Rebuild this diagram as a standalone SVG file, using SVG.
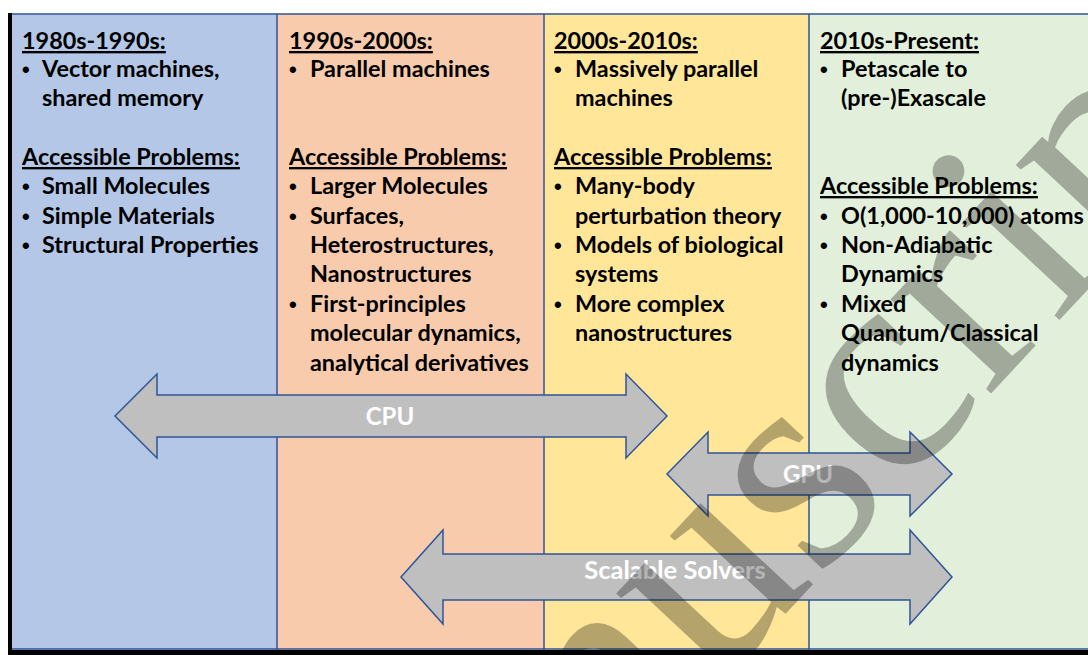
<svg xmlns="http://www.w3.org/2000/svg" width="1088" height="655" viewBox="0 0 1088 655">
<style>
.t{font-family:Lato,"Open Sans","Liberation Sans",sans-serif;font-weight:bold;font-size:23.4px;fill:#000}
.b{font-family:"Liberation Sans",Arial,sans-serif;font-weight:bold;font-size:22px;fill:#000}
.h{text-decoration:underline}
.arr{fill:#BFBFBF;stroke:#2F5597;stroke-width:1.5}
.al{font-family:Lato,"Open Sans","Liberation Sans",sans-serif;font-weight:bold;fill:#fff;text-anchor:middle}
.div{stroke:#2F5597;stroke-width:1.5}
</style>
<rect x="0" y="0" width="1088" height="655" fill="#fff"/>
<g id="col1">
<rect x="12" y="14" width="265" height="636" fill="#B4C7E7"/>
<text class="t h" x="22" y="49">1980s-1990s:</text>
<text class="b" x="22" y="77">•</text><text class="t" x="42" y="77">Vector machines,</text>
<text class="t" x="42" y="106">shared memory</text>
<text class="t h" x="22" y="165">Accessible Problems:</text>
<text class="b" x="22" y="194">•</text><text class="t" x="42" y="194">Small Molecules</text>
<text class="b" x="22" y="224">•</text><text class="t" x="42" y="224">Simple Materials</text>
<text class="b" x="22" y="253">•</text><text class="t" x="42" y="253">Structural Properties</text>
</g>
<g id="col2">
<rect x="277" y="14" width="267" height="636" fill="#F8CBAD"/>
<text class="t h" x="289" y="49">1990s-2000s:</text>
<text class="b" x="289" y="77">•</text><text class="t" x="310" y="77">Parallel machines</text>
<text class="t h" x="289" y="165">Accessible Problems:</text>
<text class="b" x="289" y="194">•</text><text class="t" x="310" y="194">Larger Molecules</text>
<text class="b" x="289" y="224">•</text><text class="t" x="310" y="224">Surfaces,</text>
<text class="t" x="310" y="253">Heterostructures,</text>
<text class="t" x="310" y="282">Nanostructures</text>
<text class="b" x="289" y="312">•</text><text class="t" x="310" y="312">First-principles</text>
<text class="t" x="310" y="341">molecular dynamics,</text>
<text class="t" x="310" y="371">analytical derivatives</text>
</g>
<g id="col3">
<rect x="544" y="14" width="265" height="636" fill="#FFE699"/>
<text class="t h" x="554" y="49">2000s-2010s:</text>
<text class="b" x="554" y="77">•</text><text class="t" x="575" y="77">Massively parallel</text>
<text class="t" x="575" y="106">machines</text>
<text class="t h" x="554" y="165">Accessible Problems:</text>
<text class="b" x="554" y="194">•</text><text class="t" x="575" y="194">Many-body</text>
<text class="t" x="575" y="224">perturbation theory</text>
<text class="b" x="554" y="253">•</text><text class="t" x="575" y="253">Models of biological</text>
<text class="t" x="575" y="282">systems</text>
<text class="b" x="554" y="312">•</text><text class="t" x="575" y="312">More complex</text>
<text class="t" x="575" y="341">nanostructures</text>
</g>
<g id="col4">
<rect x="809" y="14" width="279" height="636" fill="#E2EFDA"/>
<text class="t h" x="820" y="49">2010s-Present:</text>
<text class="b" x="820" y="77">•</text><text class="t" x="841" y="77">Petascale to</text>
<text class="t" x="841" y="106">(pre-)Exascale</text>
<text class="t h" x="820" y="194">Accessible Problems:</text>
<text class="b" x="820" y="224">•</text><text class="t" x="841" y="224">O(1,000-10,000) atoms</text>
<text class="b" x="820" y="253">•</text><text class="t" x="841" y="253">Non-Adiabatic</text>
<text class="t" x="841" y="282">Dynamics</text>
<text class="b" x="820" y="312">•</text><text class="t" x="841" y="312">Mixed</text>
<text class="t" x="841" y="341">Quantum/Classical</text>
<text class="t" x="841" y="371">dynamics</text>
</g>
<g id="dividers">
<line class="div" x1="12" y1="14" x2="1088" y2="14"/>
<line class="div" x1="277" y1="14" x2="277" y2="650"/>
<line class="div" x1="544" y1="14" x2="544" y2="650"/>
<line class="div" x1="809" y1="14" x2="809" y2="650"/>
<line class="div" x1="12" y1="649" x2="1088" y2="649"/>
</g>
<g id="connectors">
<g id="cpu">
<polygon class="arr" points="115,416 157,374 157,395 626,395 626,374 667,416 626,458 626,437 157,437 157,458"/>
<text class="al" x="390" y="425" font-size="24">CPU</text>
</g>
<g id="gpu">
<polygon class="arr" points="667,474 708,432 708,453 910,453 910,432 952,474 910,516 910,495 708,495 708,516"/>
<text class="al" x="808" y="483" font-size="24">GPU</text>
</g>
<g id="solvers">
<polygon class="arr" points="401,577 443,530 443,554 910,554 910,530 952,577 910,624 910,600 443,600 443,624"/>
<text class="al" x="675" y="579" font-size="25.5">Scalable Solvers</text>
</g>
</g>
<rect x="8" y="13" width="4" height="642" fill="#000"/>
<rect x="8" y="650" width="1080" height="5" fill="#000"/>
<text id="watermark" x="0" y="0" transform="translate(362,1068) rotate(-47)" font-family="'Liberation Serif',serif" font-size="300" fill="#000" fill-opacity="0.29">manuscript</text>
</svg>
